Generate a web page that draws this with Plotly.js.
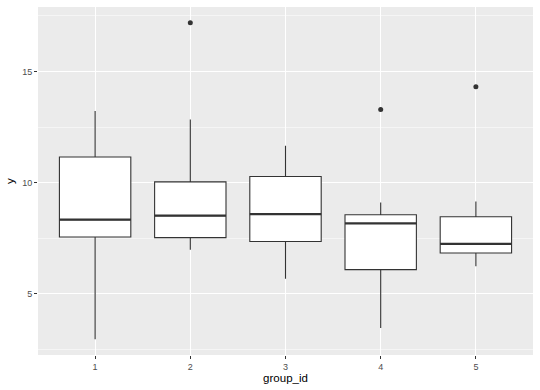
<!DOCTYPE html>
<html>
<head>
<meta charset="utf-8">
<script src="https://cdn.plot.ly/plotly-3.0.1.min.js"></script>
<style>html,body{margin:0;padding:0;background:#fff;}#chart{width:540px;height:390px;}</style>
</head>
<body>
<div id="chart"></div>
<script>
var groups = [1, 2, 3, 4, 5];
var lowerWhisker = [2.95, 6.98, 5.67, 3.46, 6.23];
var q1 = [7.55, 7.52, 7.35, 6.08, 6.83];
var medians = [8.33, 8.51, 8.58, 8.16, 7.24];
var q3 = [11.15, 10.03, 10.27, 8.55, 8.46];
var upperWhisker = [13.22, 12.84, 11.66, 9.10, 9.15];
var outlierGroups = [2, 4, 5];
var outlierValues = [17.19, 13.29, 14.31];
var tickLabels = ['1', '2', '3', '4', '5'];

var boxWidth = 0.75;
var ink = '#333333';

var boxTrace = {
  type: 'box',
  x: groups,
  q1: q1,
  median: medians,
  q3: q3,
  lowerfence: lowerWhisker,
  upperfence: upperWhisker,
  width: boxWidth,
  whiskerwidth: 0,
  fillcolor: '#FFFFFF',
  line: {color: ink, width: 1.1},
  boxpoints: false,
  hoverinfo: 'skip',
  showlegend: false
};

var mx = [], my = [];
groups.forEach(function (g, i) {
  mx.push(g - boxWidth / 2, g + boxWidth / 2, null);
  my.push(medians[i], medians[i], null);
});
var medianTrace = {
  type: 'scatter', mode: 'lines', x: mx, y: my,
  line: {color: ink, width: 2.2}, hoverinfo: 'skip', showlegend: false
};

var outlierTrace = {
  type: 'scatter', mode: 'markers', x: outlierGroups, y: outlierValues,
  marker: {color: ink, size: 5}, hoverinfo: 'skip', showlegend: false
};

var layout = {
  width: 540, height: 390,
  margin: {l: 38, r: 7, t: 7, b: 35},
  paper_bgcolor: '#FFFFFF',
  plot_bgcolor: '#EBEBEB',
  font: {family: 'Liberation Sans, Arial, sans-serif', color: '#4D4D4D', size: 9},
  showlegend: false,
  xaxis: {
    range: [0.4, 5.6],
    tickvals: groups, ticktext: tickLabels,
    showgrid: true, gridcolor: '#FFFFFF', gridwidth: 1.1,
    zeroline: false, showline: false,
    ticks: 'outside', ticklen: 3, tickcolor: ink, tickwidth: 1,
    tickfont: {size: 9, color: '#4D4D4D'},
    title: {text: 'group_id', font: {size: 11.5, color: '#000000'}, standoff: 2},
    automargin: false, fixedrange: true
  },
  yaxis: {
    range: [2.24, 17.9],
    tickvals: [5, 10, 15],
    showgrid: true, gridcolor: '#FFFFFF', gridwidth: 1.1,
    minor: {tickvals: [2.5, 7.5, 12.5, 17.5], showgrid: true, gridcolor: '#FFFFFF', gridwidth: 0.5, ticks: ''},
    zeroline: false, showline: false,
    ticks: 'outside', ticklen: 3, tickcolor: ink, tickwidth: 1,
    tickfont: {size: 9, color: '#4D4D4D'},
    title: {text: 'y', font: {size: 11.5, color: '#000000'}, standoff: 5},
    automargin: false, fixedrange: true
  }
};

Plotly.newPlot('chart', [boxTrace, medianTrace, outlierTrace], layout, {displayModeBar: false, staticPlot: true});
</script>
</body>
</html>
